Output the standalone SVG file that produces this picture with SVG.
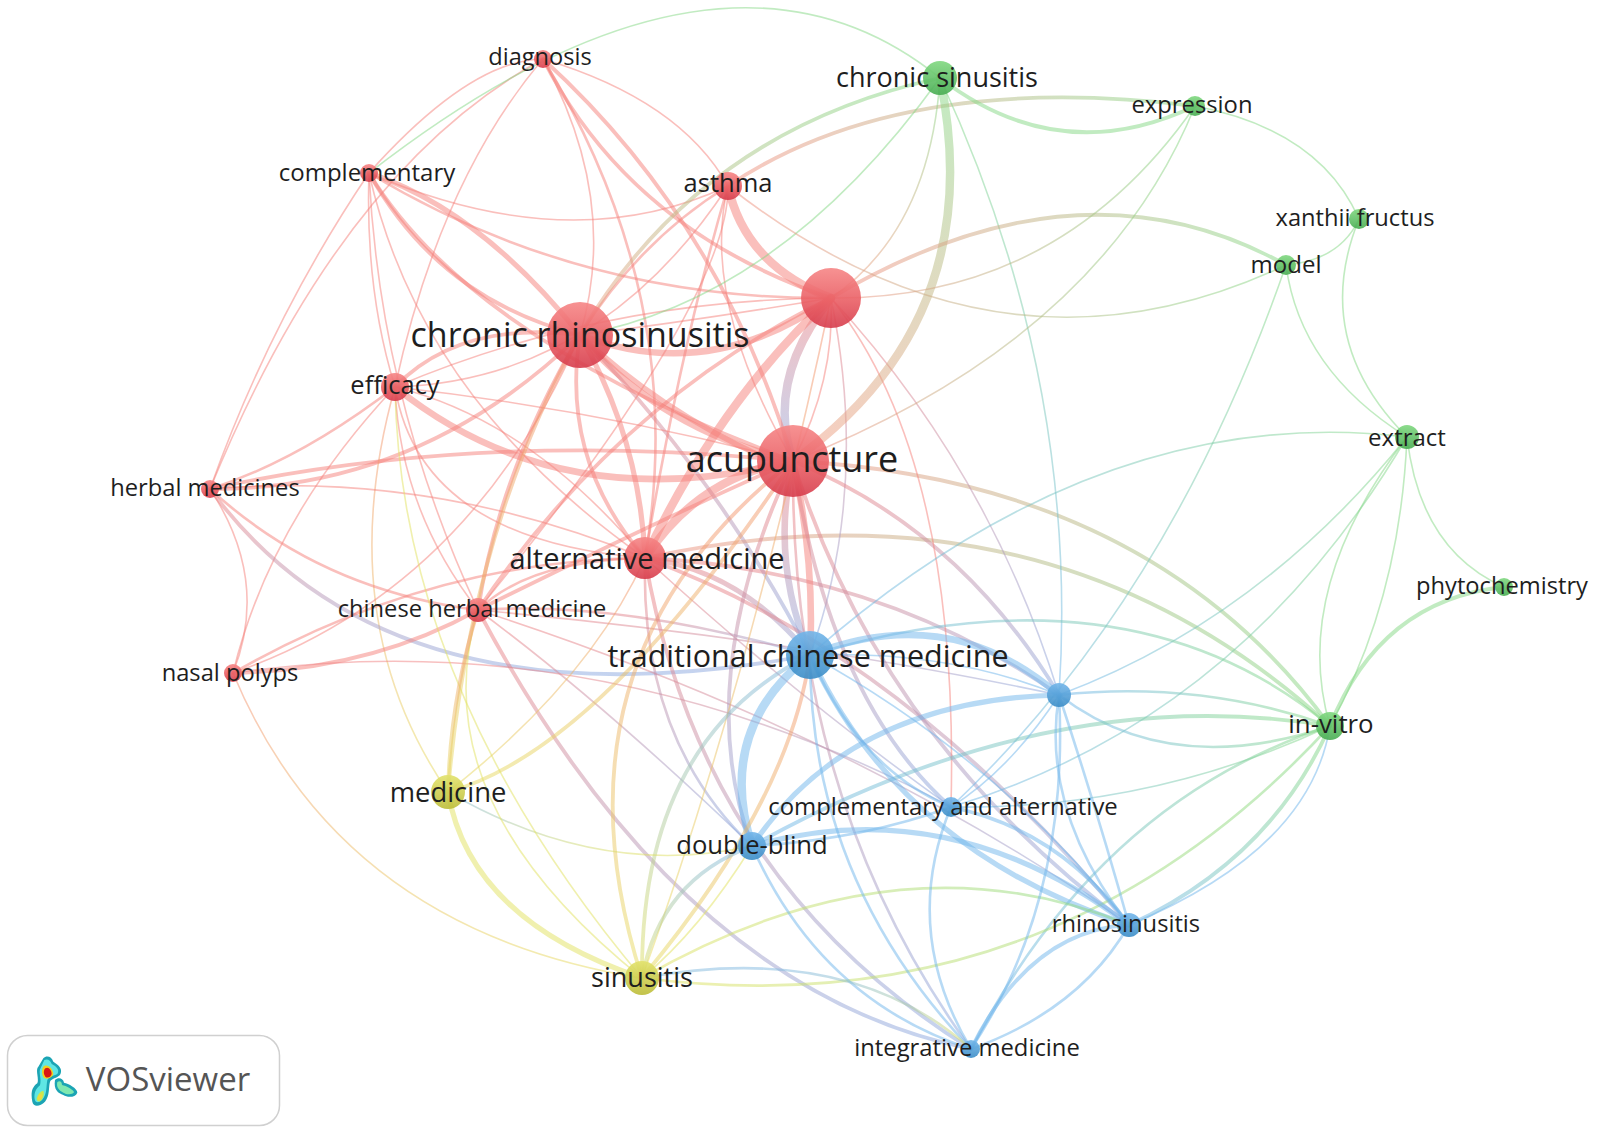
<svg xmlns="http://www.w3.org/2000/svg" width="1600" height="1131" viewBox="0 0 1600 1131">
<style>
path.e{fill:none;stroke-linecap:round;stroke-opacity:.5}
.r{stroke:#f57f7a}.g{stroke:#84d884}.b{stroke:#6fb5ec}.y{stroke:#e2e25e}
.rb{stroke:url(#rbV)}.gr{stroke:url(#grV)}.rgH{stroke:url(#rgH)}.ry{stroke:url(#ryV)}.gb{stroke:url(#gbH)}.by{stroke:url(#byV)}.yg{stroke:url(#ygH)}.bgV{stroke:url(#bgV)}
.w1{stroke-width:1.6}.w2{stroke-width:2.6}.w3{stroke-width:3.8}.w4{stroke-width:5.2}.w5{stroke-width:6.6}.w6{stroke-width:8.4}
text{font-family:"Open Sans","Noto Sans","DejaVu Sans",sans-serif;fill:#1e1e1e;text-anchor:middle;dominant-baseline:central}
circle{fill-opacity:.9}
.nr{fill:url(#nr)}.nb{fill:url(#nb)}.ng{fill:url(#ng)}.ny{fill:url(#ny)}
</style>
<defs>
<linearGradient id="rbV" x1="0" y1="0" x2="0" y2="1"><stop offset="0" stop-color="#f08080"/><stop offset="1" stop-color="#8aa8e0"/></linearGradient>
<linearGradient id="grV" x1="0" y1="0" x2="0" y2="1"><stop offset="0" stop-color="#84d884"/><stop offset="1" stop-color="#f29a80"/></linearGradient>
<linearGradient id="rgH" x1="0" y1="0" x2="1" y2="0"><stop offset="0" stop-color="#f29080"/><stop offset="1" stop-color="#84d884"/></linearGradient>
<linearGradient id="ryV" x1="0" y1="0" x2="0" y2="1"><stop offset="0" stop-color="#f49070"/><stop offset="1" stop-color="#e6dc60"/></linearGradient>
<linearGradient id="gbH" x1="0" y1="0" x2="1" y2="0"><stop offset="0" stop-color="#6fb5ec"/><stop offset="1" stop-color="#84d884"/></linearGradient>
<linearGradient id="byV" x1="0" y1="0" x2="0" y2="1"><stop offset="0" stop-color="#80b8e0"/><stop offset="1" stop-color="#dede60"/></linearGradient>
<linearGradient id="ygH" x1="0" y1="0" x2="1" y2="0"><stop offset="0" stop-color="#e2e25e"/><stop offset="1" stop-color="#84d884"/></linearGradient>
<linearGradient id="bgV" x1="0" y1="0" x2="0" y2="1"><stop offset="0" stop-color="#84d884"/><stop offset="1" stop-color="#6fb5ec"/></linearGradient>
<linearGradient id="nr" x1="0" y1="0" x2="0" y2="1"><stop offset="0" stop-color="#f68686"/><stop offset=".55" stop-color="#e95e64"/><stop offset="1" stop-color="#d63c4c"/></linearGradient>
<linearGradient id="nb" x1="0" y1="0" x2="0" y2="1"><stop offset="0" stop-color="#73b6ea"/><stop offset="1" stop-color="#3a8cc6"/></linearGradient>
<linearGradient id="ng" x1="0" y1="0" x2="0" y2="1"><stop offset="0" stop-color="#80d880"/><stop offset="1" stop-color="#48ac52"/></linearGradient>
<linearGradient id="ny" x1="0" y1="0" x2="0" y2="1"><stop offset="0" stop-color="#e2e26c"/><stop offset="1" stop-color="#bcbc38"/></linearGradient>
<filter id="soft" x="-20%" y="-20%" width="140%" height="140%"><feGaussianBlur stdDeviation="0.8"/></filter>
</defs>
<rect width="1600" height="1131" fill="#fff"/>
<g id="connectors">
<path class="e r w5" d="M580 335Q660 430 793 461"/>
<path class="e r w4" d="M580 335Q670 420 793 470"/>
<path class="e rb w3" d="M580 335Q720 480 810 655"/>
<path class="e r w5" d="M580 335Q710 385 831 298"/>
<path class="e r w1" d="M580 335Q700 320 831 298"/>
<path class="e rb w6" d="M831 298Q765 380 793 461"/>
<path class="e r w6" d="M831 298Q720 400 645 558"/>
<path class="e r w6" d="M728 186Q745 265 831 298"/>
<path class="e r w6" d="M793 461Q700 475 645 558"/>
<path class="e r w5" d="M395 387Q560 520 793 461"/>
<path class="e r w3" d="M210 489Q480 430 793 461"/>
<path class="e r w3" d="M210 489Q420 490 580 335"/>
<path class="e r w4" d="M369 173Q480 210 580 335"/>
<path class="e r w3" d="M369 173Q470 340 793 461"/>
<path class="e r w3" d="M369 173Q440 300 580 335"/>
<path class="e r w3" d="M395 387Q460 320 580 335"/>
<path class="e r w4" d="M580 335Q640 440 645 558"/>
<path class="e r w3" d="M580 335Q560 460 645 558"/>
<path class="e r w3" d="M580 335Q500 470 478 610"/>
<path class="e r w2" d="M728 186Q640 240 580 335"/>
<path class="e r w1" d="M543 59Q620 200 580 335"/>
<path class="e r w3" d="M543 59Q630 230 831 298"/>
<path class="e r w3" d="M543 59Q720 220 793 461"/>
<path class="e r w2" d="M543 59Q690 300 645 558"/>
<path class="e r w1" d="M543 59Q680 100 728 186"/>
<path class="e r w1" d="M543 59Q470 60 369 173"/>
<path class="e r w1" d="M543 59Q440 180 395 387"/>
<path class="e r w1" d="M543 59Q340 170 210 489"/>
<path class="e r w2" d="M369 173Q580 300 831 298"/>
<path class="e r w1" d="M369 173Q570 260 728 186"/>
<path class="e r w1" d="M369 173Q365 290 395 387"/>
<path class="e r w1" d="M369 173Q270 320 210 489"/>
<path class="e r w1" d="M369 173Q420 400 645 558"/>
<path class="e r w1" d="M369 173Q380 400 478 610"/>
<path class="e r w1" d="M395 387Q600 300 831 298"/>
<path class="e r w1" d="M395 387Q600 380 728 186"/>
<path class="e r w1" d="M395 387Q530 420 645 558"/>
<path class="e r w2" d="M395 387Q300 460 210 489"/>
<path class="e r w1" d="M395 387Q270 520 233 673"/>
<path class="e r w1" d="M395 387Q400 510 478 610"/>
<path class="e r w1" d="M395 387Q600 410 793 461"/>
<path class="e r w1" d="M395 387Q420 540 645 558"/>
<path class="e ry w1" d="M395 387Q330 620 448 792"/>
<path class="e r w1" d="M728 186Q700 300 793 461"/>
<path class="e r w2" d="M728 186Q680 350 645 558"/>
<path class="e r w1" d="M728 186Q730 300 478 610"/>
<path class="e r w2" d="M210 489Q320 590 478 610"/>
<path class="e r w1" d="M210 489Q270 580 233 673"/>
<path class="e r w1" d="M210 489Q430 470 645 558"/>
<path class="e rb w3" d="M210 489Q390 734 810 655"/>
<path class="e r w3" d="M233 673Q370 670 478 610"/>
<path class="e r w2" d="M233 673Q430 560 645 558"/>
<path class="e r w1" d="M233 673Q470 590 580 335"/>
<path class="e ry w1" d="M233 673Q340 930 642 978"/>
<path class="e rb w1" d="M233 673Q600 620 951 807"/>
<path class="e r w2" d="M478 610Q530 560 645 558"/>
<path class="e r w3" d="M478 610Q680 510 793 461"/>
<path class="e r w3" d="M478 610Q620 400 831 298"/>
<path class="e rb w2" d="M478 610Q620 600 810 655"/>
<path class="e rb w1" d="M478 610Q600 700 752 846"/>
<path class="e rb w1" d="M478 610Q800 640 1059 695"/>
<path class="e rb w1" d="M478 610Q850 730 1129 925"/>
<path class="e rb w3" d="M478 610Q680 990 971 1049"/>
<path class="e rb w4" d="M645 558Q740 570 810 655"/>
<path class="e rb w3" d="M645 558Q880 570 1059 695"/>
<path class="e rgH w3" d="M645 558Q1050 470 1330 726"/>
<path class="e rgH w3" d="M793 461Q1150 480 1330 726"/>
<path class="e rb w2" d="M645 558Q640 740 752 846"/>
<path class="e ry w3" d="M793 461Q540 660 642 978"/>
<path class="e rb w3" d="M645 558Q900 650 1129 925"/>
<path class="e rb w3" d="M645 558Q700 880 971 1049"/>
<path class="e rb w1" d="M645 558Q800 700 951 807"/>
<path class="e rb w5" d="M793 461Q770 560 810 655"/>
<path class="e r w5" d="M793 461Q815 560 810 655"/>
<path class="e rb w1" d="M831 298Q870 490 810 655"/>
<path class="e r w1" d="M831 298Q835 380 793 461"/>
<path class="e rb w3" d="M793 461Q960 530 1059 695"/>
<path class="e rb w3" d="M793 461Q690 680 752 846"/>
<path class="e rb w3" d="M793 461Q830 700 951 807"/>
<path class="e rb w3" d="M793 461Q880 740 1129 925"/>
<path class="e ry w3" d="M793 461Q600 750 448 792"/>
<path class="e rb w2" d="M793 461Q790 800 971 1049"/>
<path class="e ry w1" d="M831 298Q750 680 642 978"/>
<path class="e r w1" d="M831 298Q960 460 951 807"/>
<path class="e rb w1" d="M831 298Q990 470 1059 695"/>
<path class="e gr w3" d="M940 78Q700 130 580 335"/>
<path class="e rgH w3" d="M728 186Q900 70 1195 106"/>
<path class="e ry w3" d="M448 792Q470 530 580 335"/>
<path class="e gr w6" d="M940 78Q990 320 793 461"/>
<path class="e gr w1" d="M940 78Q930 230 831 298"/>
<path class="e g w1" d="M940 78Q780 300 580 335"/>
<path class="e g w3" d="M940 78Q1060 170 1195 106"/>
<path class="e bgV w1" d="M940 78Q1080 380 1059 695"/>
<path class="e g w1" d="M940 78Q720 -100 369 173"/>
<path class="e rgH w3" d="M831 298Q1080 150 1286 265"/>
<path class="e rgH w1" d="M728 186Q1000 400 1286 265"/>
<path class="e rgH w1" d="M831 298Q1060 300 1195 106"/>
<path class="e rgH w1" d="M793 461Q1100 340 1195 106"/>
<path class="e g w1" d="M1195 106Q1320 130 1359 219"/>
<path class="e g w1" d="M1286 265Q1340 260 1359 219"/>
<path class="e g w1" d="M1359 219Q1310 340 1407 437"/>
<path class="e g w1" d="M1286 265Q1300 370 1407 437"/>
<path class="e bgV w1" d="M1286 265Q1170 600 951 807"/>
<path class="e gb w1" d="M810 655Q1100 400 1407 437"/>
<path class="e g w1" d="M1407 437Q1420 550 1504 587"/>
<path class="e g w1" d="M1407 437Q1290 590 1330 726"/>
<path class="e g w1" d="M1407 437Q1400 600 1330 726"/>
<path class="e gb w1" d="M1059 695Q1260 620 1407 437"/>
<path class="e gb w1" d="M951 807Q1240 720 1407 437"/>
<path class="e g w3" d="M1504 587Q1380 600 1330 726"/>
<path class="e gb w2" d="M1059 695Q1200 680 1330 726"/>
<path class="e gb w2" d="M1059 695Q1170 780 1330 726"/>
<path class="e gb w2" d="M810 655Q1130 560 1330 726"/>
<path class="e gb w3" d="M752 846Q1050 680 1330 726"/>
<path class="e gb w1" d="M951 807Q1150 810 1330 726"/>
<path class="e gb w2" d="M971 1049Q1100 800 1330 726"/>
<path class="e gb w3" d="M1129 925Q1270 860 1330 726"/>
<path class="e b w1" d="M1129 925Q1310 850 1330 726"/>
<path class="e yg w2" d="M642 978Q1050 1030 1330 726"/>
<path class="e b w2" d="M1059 695Q1040 810 1129 925"/>
<path class="e b w2" d="M1059 695Q1100 820 1129 925"/>
<path class="e b w4" d="M810 655Q900 850 1129 925"/>
<path class="e b w4" d="M752 846Q950 790 1129 925"/>
<path class="e b w3" d="M951 807Q1060 830 1129 925"/>
<path class="e b w3" d="M971 1049Q1030 930 1129 925"/>
<path class="e b w2" d="M971 1049Q1080 1010 1129 925"/>
<path class="e yg w2" d="M642 978Q900 830 1129 925"/>
<path class="e b w5" d="M810 655Q950 600 1059 695"/>
<path class="e b w1" d="M810 655Q950 650 1059 695"/>
<path class="e b w6" d="M810 655Q715 730 752 846"/>
<path class="e b w2" d="M810 655Q860 770 951 807"/>
<path class="e b w2" d="M810 655Q810 880 971 1049"/>
<path class="e b w1" d="M810 655Q1000 760 1129 925"/>
<path class="e by w3" d="M810 655Q640 740 642 978"/>
<path class="e ry w3" d="M810 655Q790 800 642 978"/>
<path class="e b w4" d="M752 846Q850 700 1059 695"/>
<path class="e b w2" d="M752 846Q860 840 951 807"/>
<path class="e by w3" d="M752 846Q660 880 642 978"/>
<path class="e y w1" d="M752 846Q700 930 642 978"/>
<path class="e b w2" d="M752 846Q820 1000 971 1049"/>
<path class="e by w1" d="M448 792Q600 880 752 846"/>
<path class="e b w1" d="M951 807Q1010 770 1059 695"/>
<path class="e b w2" d="M951 807Q900 930 971 1049"/>
<path class="e b w2" d="M1059 695Q1070 900 971 1049"/>
<path class="e y w4" d="M448 792Q470 920 642 978"/>
<path class="e by w2" d="M971 1049Q850 940 642 978"/>
<path class="e y w1" d="M642 978Q420 800 478 610"/>
<path class="e y w1" d="M642 978Q400 690 395 387"/>
<path class="e ry w3" d="M478 610Q450 700 448 792"/>
<path class="e ry w1" d="M645 558Q590 680 448 792"/>
</g>
<g id="node-chronic-rhinosinusitis"><circle class="nr" cx="580" cy="335" r="33"/></g>
<g id="node-unlabeled-red"><circle class="nr" cx="831" cy="298" r="30"/></g>
<g id="node-acupuncture"><circle class="nr" cx="793" cy="461" r="36"/></g>
<g id="node-alternative-medicine"><circle class="nr" cx="645" cy="558" r="21"/></g>
<g id="node-asthma"><circle class="nr" cx="728" cy="186" r="14"/></g>
<g id="node-efficacy"><circle class="nr" cx="395" cy="387" r="14"/></g>
<g id="node-diagnosis"><circle class="nr" cx="543" cy="59" r="9"/></g>
<g id="node-complementary"><circle class="nr" cx="369" cy="173" r="9"/></g>
<g id="node-herbal-medicines"><circle class="nr" cx="210" cy="489" r="9"/></g>
<g id="node-chinese-herbal-medicine"><circle class="nr" cx="478" cy="610" r="12"/></g>
<g id="node-nasal-polyps"><circle class="nr" cx="233" cy="673" r="9"/></g>
<g id="node-traditional-chinese-medicine"><circle class="nb" cx="810" cy="655" r="24"/></g>
<g id="node-unlabeled-blue"><circle class="nb" cx="1059" cy="695" r="12"/></g>
<g id="node-complementary-and-alternative"><circle class="nb" cx="951" cy="807" r="10"/></g>
<g id="node-double-blind"><circle class="nb" cx="752" cy="846" r="14"/></g>
<g id="node-rhinosinusitis"><circle class="nb" cx="1129" cy="925" r="12"/></g>
<g id="node-integrative-medicine"><circle class="nb" cx="971" cy="1049" r="9"/></g>
<g id="node-sinusitis"><circle class="ny" cx="642" cy="978" r="17"/></g>
<g id="node-medicine"><circle class="ny" cx="448" cy="792" r="17"/></g>
<g id="node-chronic-sinusitis"><circle class="ng" cx="940" cy="78" r="17"/></g>
<g id="node-expression"><circle class="ng" cx="1195" cy="106" r="10"/></g>
<g id="node-xanthii-fructus"><circle class="ng" cx="1359" cy="219" r="10"/></g>
<g id="node-model"><circle class="ng" cx="1286" cy="265" r="10"/></g>
<g id="node-extract"><circle class="ng" cx="1407" cy="437" r="12"/></g>
<g id="node-phytochemistry"><circle class="ng" cx="1504" cy="587" r="9"/></g>
<g id="node-in-vitro"><circle class="ng" cx="1330" cy="726" r="14"/></g>
<g id="labels">
<text x="580" y="334" font-size="34">chronic rhinosinusitis</text>
<text x="792" y="458" font-size="36">acupuncture</text>
<text x="647" y="557" font-size="29">alternative medicine</text>
<text x="808" y="655" font-size="30.500">traditional chinese medicine</text>
<text x="937" y="76" font-size="27">chronic sinusitis</text>
<text x="540" y="56" font-size="23.600">diagnosis</text>
<text x="367" y="171" font-size="24">complementary</text>
<text x="728" y="182" font-size="25.500">asthma</text>
<text x="395" y="384" font-size="25.500">efficacy</text>
<text x="205" y="487" font-size="23.700">herbal medicines</text>
<text x="472" y="608" font-size="23.700">chinese herbal medicine</text>
<text x="230" y="672" font-size="23.700">nasal polyps</text>
<text x="1192" y="104" font-size="23.800">expression</text>
<text x="1355" y="217" font-size="23.700">xanthii fructus</text>
<text x="1286" y="263" font-size="24">model</text>
<text x="1407" y="436" font-size="24">extract</text>
<text x="1502" y="585" font-size="23.700">phytochemistry</text>
<text x="1331" y="723" font-size="25.800">in-vitro</text>
<text x="448" y="791" font-size="27.400">medicine</text>
<text x="943" y="805" font-size="23.900">complementary and alternative</text>
<text x="752" y="844" font-size="25.600">double-blind</text>
<text x="1126" y="923" font-size="23.700">rhinosinusitis</text>
<text x="967" y="1047" font-size="23.800">integrative medicine</text>
<text x="642" y="976" font-size="27">sinusitis</text>
</g>
<g id="logo">
<rect x="7.500" y="1035.500" width="272" height="90" rx="20" fill="#fff" stroke="#d0d0d0" stroke-width="1.500"/>
<g filter="url(#soft)" transform="translate(0 1000) scale(.3333)">
<path d="M130 175C140 165 155 170 160 185C175 195 190 205 180 225C170 235 155 235 150 245C145 265 150 285 135 305C120 320 100 322 97 305C92 280 95 262 112 250C118 235 105 210 115 200Z" fill="#1aa4b4"/>
<path d="M165 240C175 230 190 235 192 248C205 250 232 265 232 278C225 295 200 292 190 285C175 280 160 270 165 240Z" fill="#1aa4b4"/>
<path d="M133 180C143 175 152 182 155 192C170 200 180 210 172 222C160 228 148 228 142 240C138 262 142 280 128 298C118 310 106 310 104 298C102 280 106 268 120 256C126 238 114 215 122 204Z" fill="#5fe6e4"/>
<path d="M172 246C180 240 186 246 186 255C198 257 222 270 222 277C215 286 198 283 190 278C178 272 168 262 172 246Z" fill="#7fe8b0"/>
<path d="M110 295C112 285 122 272 130 272C134 280 130 298 120 304C113 306 109 302 110 295Z" fill="#c8e850"/>
<path d="M132 198C145 192 158 205 160 222C158 232 142 240 132 234C124 225 124 205 132 198Z" fill="#f0d020"/>
<path d="M136 205C145 198 155 210 155 222C152 232 142 236 136 230C130 222 130 210 136 205Z" fill="#d81818"/>
<path d="M113 294C115 286 124 280 126 284C128 292 122 300 116 300Z" fill="#f0d840"/>
</g>
<text x="168" y="1078" font-size="33" style="fill:#555">VOSviewer</text>
</g>
</svg>
